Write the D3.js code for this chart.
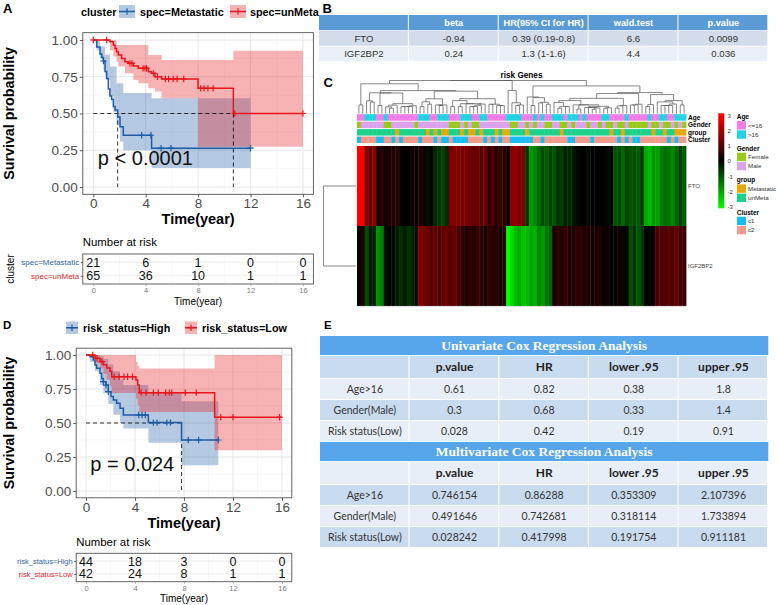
<!DOCTYPE html>
<html><head><meta charset="utf-8">
<script src="https://cdn.jsdelivr.net/npm/d3@7"></script>
<style>body{margin:0;background:#fff}svg{display:block}</style>
</head><body>
<svg id="fig" width="778" height="605"></svg>
<script>
// ================= DATA =================
const timeTicks = [0, 4, 8, 12, 16];
const timeMinor = [2, 6, 10, 14];
const survTicks = [0, 0.25, 0.5, 0.75, 1];
const survMinor = [0.125, 0.375, 0.625, 0.875];

// ---- Panel A : cluster ----
const aLabels = ["spec=Metastatic", "spec=unMeta"];
const aMetaTimes = [0, 0.26, 0.51, 0.65, 0.77, 0.9, 1.02, 1.15, 1.27, 1.4, 1.53, 1.66, 1.86, 2.04, 2.29, 4.45];
const aMetaSurv  = [1, 0.952, 0.905, 0.881, 0.857, 0.786, 0.738, 0.667, 0.619, 0.595, 0.548, 0.524, 0.476, 0.41, 0.352, 0.264];
const aMetaEnd = 12;
const aMetaCensor = [0.77, 3.69, 4.4, 5.17, 5.93, 12];
const aMetaBandTimes = [0, 0.26, 0.51, 0.77, 0.9, 1.02, 1.27, 1.53, 1.78, 2.04, 2.29, 4.45];
const aMetaLower = [1, 0.93, 0.875, 0.8, 0.76, 0.73, 0.62, 0.51, 0.42, 0.31, 0.25, 0.13];
const aMetaUpper = [1, 1, 0.955, 0.955, 0.9, 0.9, 0.82, 0.82, 0.705, 0.705, 0.64, 0.603];

const aUnTimes = [0, 1.27, 1.53, 1.66, 1.78, 1.91, 2.16, 2.42, 2.67, 3.06, 3.44, 4.2, 4.45, 4.71, 5.22, 8.0, 10.69];
const aUnSurv  = [1, 0.988, 0.966, 0.943, 0.92, 0.898, 0.875, 0.852, 0.841, 0.823, 0.807, 0.784, 0.773, 0.75, 0.735, 0.671, 0.5];
const aUnEnd = 16;
const aUnCensor = [0, 1.02, 2.8, 2.95, 3.8, 3.95, 4.07, 4.6, 4.9, 5.5, 5.75, 6.1, 6.4, 6.9, 8.2, 8.45, 8.75, 9.15, 10.8, 16];
const aUnBandTimes = [0, 1.27, 1.53, 1.78, 1.91, 2.42, 3.06, 3.44, 4.2, 4.71, 5.22, 8.0, 10.69];
const aUnLower = [1, 0.932, 0.887, 0.852, 0.82, 0.773, 0.728, 0.705, 0.671, 0.649, 0.603, 0.274, 0.274];
const aUnUpper = [1, 1, 1, 0.966, 0.966, 0.966, 0.966, 0.966, 0.898, 0.898, 0.864, 0.864, 0.927];
const aMedians = [1.86, 10.69];
const aRiskMeta = [21, 6, 1, 0, 0];
const aRiskUn   = [65, 36, 10, 1, 1];

// ---- Panel D : risk status ----
const dLabels = ["risk_status=High", "risk_status=Low"];
const dHighTimes = [0, 0.33, 0.6, 0.73, 0.87, 1.14, 1.28, 1.42, 1.63, 1.82, 2.04, 2.23, 2.5, 2.78, 3.05, 5.09, 7.8];
const dHighSurv  = [1, 0.988, 0.963, 0.926, 0.902, 0.865, 0.828, 0.804, 0.779, 0.73, 0.694, 0.669, 0.645, 0.608, 0.559, 0.503, 0.375];
const dHighEnd = 10.8;
const dHighCensor = [1.42, 1.63, 1.82, 4.3, 4.57, 4.84, 5.5, 5.8, 6.6, 6.9, 8.35, 9.2, 10.8];
const dHighBandTimes = [0, 0.33, 0.73, 1.14, 1.42, 1.82, 2.23, 2.78, 3.05, 5.09, 7.8];
const dHighLower = [1, 0.95, 0.88, 0.78, 0.72, 0.64, 0.56, 0.5, 0.46, 0.355, 0.19];
const dHighUpper = [1, 1, 1, 0.99, 0.97, 0.93, 0.88, 0.82, 0.78, 0.72, 0.66];

const dLowTimes = [0, 0.73, 1.14, 1.42, 1.69, 1.96, 2.1, 4.08, 4.22, 4.35, 10.5];
const dLowSurv  = [1, 0.976, 0.952, 0.928, 0.904, 0.88, 0.84, 0.816, 0.78, 0.723, 0.542];
const dLowEnd = 16;
const dLowCensor = [0.55, 0.9, 1.3, 2.3, 2.7, 3.1, 3.4, 3.8, 4.5, 4.9, 5.5, 5.9, 6.5, 6.8, 7.0, 8.1, 9.0, 11.0, 12.0, 15.8];
const dLowBandTimes = [0, 0.73, 1.14, 1.42, 1.69, 1.96, 2.1, 4.08, 4.22, 4.35, 10.5];
const dLowLower = [1, 0.94, 0.9, 0.86, 0.82, 0.77, 0.72, 0.68, 0.63, 0.58, 0.30];
const dLowUpper = [1, 1, 1, 1, 1, 1, 1, 0.95, 0.92, 0.9, 1.0];
const dMedians = [7.8];
const dRiskHigh = [44, 18, 3, 0, 0];
const dRiskLow  = [42, 24, 8, 1, 1];

// ---- Panel B : univariate table ----
const bHeader = ["", "beta", "HR(95% CI for HR)", "wald.test", "p.value"];
const bGenes = ["FTO", "IGF2BP2"];
const bBeta = [-0.94, 0.24];
const bHR = ["0.39 (0.19-0.8)", "1.3 (1-1.6)"];
const bWald = [6.6, 4.4];
const bP = [0.0099, 0.036];

// ---- Panel C : heatmap ----
const geneNames = ["FTO", "IGF2BP2"];
const ftoExpr = [3.0,2.9,1.5,1.2,1.7,0.3,0.5,0.2,0.4,0.3,0.5,0.1,0.0,0.05,0.2,0.1,0.4,0.2,-0.2,0.1,-0.5,-0.6,-0.8,-0.5,1.4,1.5,1.5,1.4,1.5,1.3,1.2,1.3,1.0,1.2,0.6,0.9,0.4,0.7,0.5,0.1,1.6,1.7,1.5,1.4,-0.6,-1.8,-1.6,-1.3,-0.9,-1.1,-0.8,-1.0,-0.6,-0.7,-0.4,-0.5,-0.3,-0.1,-0.05,0,-0.15,0,0,-0.05,0,-0.1,0,-1.0,-0.9,-1.2,-0.8,-1.0,-0.9,-1.1,-0.7,-2.0,-2.2,-1.8,-1.9,-1.5,-1.3,-1.4,-1.6,-1.2,-0.8,-1.1];
const igfExpr = [0.1,0.4,-0.9,-0.3,-0.4,-1.7,-1.5,-0.2,0.0,-0.1,-0.3,-0.5,-0.3,-0.6,-0.4,-0.2,1.5,1.4,1.2,1.0,1.2,0.9,1.1,1.3,1.0,1.2,0.8,0.6,0.3,0.6,0.4,0.7,0.5,0.2,0.6,0.4,0.5,0.3,0.5,-3.0,-2.6,-2.2,-2.0,-2.3,-2.2,-1.9,-2.1,-1.6,-1.8,-1.4,-1.2,0.3,0.5,0.4,0.6,0.4,0.3,0.5,0.6,0.3,0.4,0.2,0.3,0.4,0.1,0.2,0.0,0.1,0.2,0.1,0.0,-0.9,-0.6,-1.0,-0.7,0.0,-0.1,0.1,0.9,1.0,0.8,1.1,0.9,1.2,0.8,0.7];
const ageOver16Cols = [2,3,4,7,16,17,18,21,22,23,27,28,29,32,33,39,40,41,42,46,48,51,52,53,55,56,57,59,64,65,70,76,79,80,83,84,85];
const femaleCols = [0,7,8,15,24,25,26,28,30,31,40,41,44,46,49,50,53,54,56,60,63,65,66,68,69,71,72,73,74,75,77,78,80,81,83,85];
const metastaticCols = [10,18,20,22,23,27,29,30,32,36,38,39,44,53,66,69,77,80,83,84,85];
const clusterC1Cols = [0,5,6,9,11,16,20,22,23,25,26,27,28,33,35,37,40,41,42,43,44,45,48,55,56,61,68,70,72,73,81,83];
const annRows = ["Age", "Gender", "group", "Cluster"];
const annLevels = {Age: ["<=16", ">16"], Gender: ["Female", "Male"], group: ["Metastatic", "unMeta"], Cluster: ["c1", "c2"]};
const annColors = {"<=16": "#F07DE7", ">16": "#20D3E3", "Female": "#98C91C", "Male": "#DCA2EE",
                   "Metastatic": "#E6A905", "unMeta": "#1ED18B", "c1": "#18BCF0", "c2": "#F49A8C"};
const legendTicks = [3, 2, 1, 0, -1, -2, -3];

// ---- Panel E : Cox tables ----
const eHeader = ["", "p.value", "HR", "lower .95", "upper .95"];
const eVars = ["Age>16", "Gender(Male)", "Risk status(Low)"];
const uniVals = [[0.61, 0.82, 0.38, 1.8], [0.3, 0.68, 0.33, 1.4], [0.028, 0.42, 0.19, 0.91]];
const multiVals = [[0.746154, 0.86288, 0.353309, 2.107396], [0.491646, 0.742681, 0.318114, 1.733894], [0.028242, 0.417998, 0.191754, 0.911181]];
const eTitles = ["Univariate Cox Regression Analysis", "Multivariate Cox Regression Analysis"];

// ================= DRAWING =================
const SANS = "'Liberation Sans', Arial, Helvetica, sans-serif";
const BLUE = "#1E5BA6", RED = "#E8161C";
const BLUE_LAB = "#2F64A5", RED_LAB = "#E2282A";
const svg = d3.select("#fig");
svg.append("rect").attr("width", 778).attr("height", 605).attr("fill", "#fff");

function panelLabel(t, x, y, size) {
  svg.append("text").attr("x", x).attr("y", y).text(t)
    .attr("font-family", SANS).attr("font-weight", "bold").attr("font-size", size).attr("fill", "#000");
}

function stepVal(times, vals, t) {
  let v = vals[0];
  for (let i = 0; i < times.length; i++) if (times[i] <= t + 1e-9) v = vals[i];
  return v;
}

function styleAxis(g, size, color) {
  g.select(".domain").remove();
  g.attr("font-family", SANS).attr("font-size", size);
  g.selectAll(".tick line").attr("stroke", "#333").attr("stroke-width", 0.8);
  g.selectAll(".tick text").attr("fill", color);
}

function drawKM(o) {
  const x = d3.scaleLinear().domain([-0.8, 16.8]).range([o.left, o.right]);
  const y = d3.scaleLinear().domain([-0.05, 1.05]).range([o.bottom, o.top]);
  const g = svg.append("g");
  g.selectAll(".vmin").data(timeMinor).join("line")
    .attr("x1", d => x(d)).attr("x2", d => x(d)).attr("y1", o.top).attr("y2", o.bottom)
    .attr("stroke", "#F3F3F3").attr("stroke-width", 0.6);
  g.selectAll(".hmin").data(survMinor).join("line")
    .attr("y1", d => y(d)).attr("y2", d => y(d)).attr("x1", o.left).attr("x2", o.right)
    .attr("stroke", "#F3F3F3").attr("stroke-width", 0.6);
  g.selectAll(".vmaj").data(timeTicks).join("line")
    .attr("x1", d => x(d)).attr("x2", d => x(d)).attr("y1", o.top).attr("y2", o.bottom)
    .attr("stroke", "#E6E6E6").attr("stroke-width", 1);
  g.selectAll(".hmaj").data(survTicks).join("line")
    .attr("y1", d => y(d)).attr("y2", d => y(d)).attr("x1", o.left).attr("x2", o.right)
    .attr("stroke", "#E6E6E6").attr("stroke-width", 1);

  const area = d3.area().curve(d3.curveStepAfter).x(d => x(d.t)).y0(d => y(d.lo)).y1(d => y(d.hi));
  o.curves.forEach(c => {
    const pts = c.bandTimes.map((t, i) => ({t, lo: c.lower[i], hi: c.upper[i]}));
    const last = pts[pts.length - 1];
    pts.push({t: c.end, lo: last.lo, hi: last.hi});
    g.append("path").attr("d", area(pts)).attr("fill", c.color).attr("fill-opacity", 0.33);
  });

  // median lines
  const mMax = d3.max(o.medians);
  g.append("line").attr("x1", x(0)).attr("x2", x(mMax)).attr("y1", y(0.5)).attr("y2", y(0.5))
    .attr("stroke", "#000").attr("stroke-width", 0.8).attr("stroke-dasharray", "4,3");
  g.selectAll(".med").data(o.medians).join("line")
    .attr("x1", d => x(d)).attr("x2", d => x(d)).attr("y1", y(0.5)).attr("y2", y(0))
    .attr("stroke", "#000").attr("stroke-width", 0.8).attr("stroke-dasharray", "4,3");

  const line = d3.line().curve(d3.curveStepAfter).x(d => x(d[0])).y(d => y(d[1]));
  o.curves.forEach(c => {
    const pts = c.times.map((t, i) => [t, c.surv[i]]);
    pts.push([c.end, c.surv[c.surv.length - 1]]);
    g.append("path").attr("d", line(pts)).attr("fill", "none").attr("stroke", c.color).attr("stroke-width", 1.5);
    g.selectAll(null).data(c.censor).join("path")
      .attr("transform", t => `translate(${x(t)},${y(stepVal(c.times, c.surv, t))})`)
      .attr("d", "M-3.2,0H3.2M0,-3.2V3.2").attr("stroke", c.color).attr("stroke-width", 1.2);
  });

  g.append("rect").attr("x", o.left).attr("y", o.top).attr("width", o.right - o.left).attr("height", o.bottom - o.top)
    .attr("fill", "none").attr("stroke", "#555").attr("stroke-width", 0.9);

  g.append("text").attr("x", x(0.35)).attr("y", y(0.15)).text(o.pText)
    .attr("font-family", SANS).attr("font-size", 20).attr("fill", "#111");

  const ax = g.append("g").attr("transform", `translate(0,${o.bottom})`)
    .call(d3.axisBottom(x).tickValues(timeTicks).tickSize(3).tickPadding(1.5));
  styleAxis(ax, 13.5, "#4D4D4D");
  const ay = g.append("g").attr("transform", `translate(${o.left},0)`)
    .call(d3.axisLeft(y).tickValues(survTicks).tickFormat(d3.format(".2f")).tickSize(3).tickPadding(2));
  styleAxis(ay, 13.5, "#4D4D4D");

  g.append("text").attr("x", x(8)).attr("y", o.xTitleY).attr("text-anchor", "middle").text("Time(year)")
    .attr("font-family", SANS).attr("font-weight", "bold").attr("font-size", 14.5);
  g.append("text").attr("transform", `translate(${o.yTitleX},${(o.top + o.bottom) / 2}) rotate(-90)`)
    .attr("text-anchor", "middle").text("Survival probability")
    .attr("font-family", SANS).attr("font-weight", "bold").attr("font-size", 14.3);
}

function legendKey(x, y, w, h, color) {
  svg.append("rect").attr("x", x).attr("y", y).attr("width", w).attr("height", h).attr("fill", color).attr("fill-opacity", 0.33);
  svg.append("line").attr("x1", x).attr("x2", x + w).attr("y1", y + h / 2).attr("y2", y + h / 2)
    .attr("stroke", color).attr("stroke-width", 1.5);
  svg.append("path").attr("transform", `translate(${x + w / 2},${y + h / 2})`)
    .attr("d", "M-3.2,0H3.2M0,-3.2V3.2").attr("stroke", color).attr("stroke-width", 1.2);
}
function legendText(t, x, y) {
  svg.append("text").attr("x", x).attr("y", y).text(t)
    .attr("font-family", SANS).attr("font-weight", "bold").attr("font-size", 10.8);
}

function drawRisk(o) {
  const x = d3.scaleLinear().domain([-0.8, 16.8]).range([o.left, o.right]);
  const y = d3.scalePoint().domain(o.labels).range([o.top, o.bottom]).padding(0.6);
  const g = svg.append("g");
  g.selectAll(".vmin").data(timeMinor).join("line")
    .attr("x1", d => x(d)).attr("x2", d => x(d)).attr("y1", o.top).attr("y2", o.bottom)
    .attr("stroke", "#F3F3F3").attr("stroke-width", 0.6);
  g.selectAll(".vmaj").data(timeTicks).join("line")
    .attr("x1", d => x(d)).attr("x2", d => x(d)).attr("y1", o.top).attr("y2", o.bottom)
    .attr("stroke", "#EAEAEA").attr("stroke-width", 0.9);
  g.selectAll(".hmaj").data(o.labels).join("line")
    .attr("y1", d => y(d)).attr("y2", d => y(d)).attr("x1", o.left).attr("x2", o.right)
    .attr("stroke", "#EAEAEA").attr("stroke-width", 0.9);
  o.labels.forEach((lab, r) => {
    g.selectAll(null).data(o.counts[r]).join("text")
      .attr("x", (d, i) => x(timeTicks[i])).attr("y", y(lab)).attr("dy", "0.36em")
      .attr("text-anchor", "middle").text(d => d)
      .attr("font-family", SANS).attr("font-size", 12.5).attr("fill", "#111");
  });
  g.append("rect").attr("x", o.left).attr("y", o.top).attr("width", o.right - o.left).attr("height", o.bottom - o.top)
    .attr("fill", "none").attr("stroke", "#555").attr("stroke-width", 0.9);
  const ax = g.append("g").attr("transform", `translate(0,${o.bottom})`)
    .call(d3.axisBottom(x).tickValues(timeTicks).tickSize(2).tickPadding(1.5));
  styleAxis(ax, 7.5, "#7A7A7A");
  ax.selectAll(".tick line").attr("stroke", "#999");
  const ay = g.append("g").attr("transform", `translate(${o.left},0)`)
    .call(d3.axisLeft(y).tickSize(2).tickPadding(1.5));
  styleAxis(ay, o.labSize, "#000");
  ay.selectAll(".tick text").attr("fill", (d, i) => o.labColors[i]);
  g.append("text").attr("x", o.left).attr("y", o.titleY).text("Number at risk")
    .attr("font-family", SANS).attr("font-size", 11.4);
  g.append("text").attr("x", x(8)).attr("y", o.xTitleY).attr("text-anchor", "middle").text("Time(year)")
    .attr("font-family", SANS).attr("font-size", 10);
}

// ---- Panel A ----
panelLabel("A", 3, 13, 13);
drawKM({
  left: 82.8, right: 313.4, top: 32.65, bottom: 194.35, xTitleY: 224, yTitleX: 14,
  medians: aMedians, pText: "p < 0.0001",
  curves: [
    {times: aMetaTimes, surv: aMetaSurv, end: aMetaEnd, censor: aMetaCensor, bandTimes: aMetaBandTimes, lower: aMetaLower, upper: aMetaUpper, color: BLUE},
    {times: aUnTimes, surv: aUnSurv, end: aUnEnd, censor: aUnCensor, bandTimes: aUnBandTimes, lower: aUnLower, upper: aUnUpper, color: RED}
  ]
});
legendText("cluster", 81, 15.5);
legendKey(119, 5, 16, 13, BLUE);
legendText(aLabels[0], 140, 15.5);
legendKey(230, 5, 16, 13, RED);
legendText(aLabels[1], 250, 15.5);
drawRisk({left: 82.8, right: 313.4, top: 254, bottom: 284, labels: aLabels, counts: [aRiskMeta, aRiskUn],
  labColors: [BLUE_LAB, RED_LAB], labSize: 8, titleY: 245.5, xTitleY: 304.5});
svg.append("text").attr("transform", "translate(14,269) rotate(-90)").attr("text-anchor", "middle").text("cluster")
  .attr("font-family", SANS).attr("font-size", 10);

// ---- Panel D ----
panelLabel("D", 3, 328.5, 11.5);
drawKM({
  left: 76.2, right: 291.8, top: 348.2, bottom: 497.8, xTitleY: 527.5, yTitleX: 13.5,
  medians: dMedians, pText: "p = 0.024",
  curves: [
    {times: dHighTimes, surv: dHighSurv, end: dHighEnd, censor: dHighCensor, bandTimes: dHighBandTimes, lower: dHighLower, upper: dHighUpper, color: BLUE},
    {times: dLowTimes, surv: dLowSurv, end: dLowEnd, censor: dLowCensor, bandTimes: dLowBandTimes, lower: dLowLower, upper: dLowUpper, color: RED}
  ]
});
legendKey(66, 321.5, 12, 12.5, BLUE);
legendText(dLabels[0], 83, 331.8);
legendKey(185, 321.5, 12, 12.5, RED);
legendText(dLabels[1], 202, 331.8);
drawRisk({left: 76.2, right: 291.8, top: 553.3, bottom: 581.7, labels: dLabels, counts: [dRiskHigh, dRiskLow],
  labColors: [BLUE_LAB, RED_LAB], labSize: 7.5, titleY: 545.5, xTitleY: 602});

// ---- Panel B ----
panelLabel("B", 322.5, 12.5, 13);
(function () {
  const cx = d3.scaleBand().domain(d3.range(bHeader.length)).range([319, 768.3]);
  const g = svg.append("g").attr("font-family", SANS);
  const rowsY = [15, 31, 46.5], rowsH = [15.2, 14.7, 14.7];
  const rows = [bHeader].concat(bGenes.map((gn, i) => [gn, String(bBeta[i]), bHR[i], String(bWald[i]), String(bP[i])]));
  const fills = ["#5B9BD5", "#D3DCEA", "#EBEFF6"];
  rows.forEach((r, ri) => {
    r.forEach((cell, ci) => {
      g.append("rect").attr("x", cx(ci)).attr("y", rowsY[ri]).attr("width", cx.bandwidth() - 1).attr("height", rowsH[ri])
        .attr("fill", fills[ri]);
      g.append("text").attr("x", cx(ci) + cx.bandwidth() / 2).attr("y", rowsY[ri] + rowsH[ri] / 2).attr("dy", "0.36em")
        .attr("text-anchor", "middle").text(cell)
        .attr("font-size", ri === 0 ? 9.2 : 9.6).attr("font-weight", ri === 0 ? "bold" : "normal")
        .attr("fill", ri === 0 ? "#fff" : "#333");
    });
  });
})();

// ---- Panel C ----
panelLabel("C", 323.5, 86.5, 13);
(function () {
  const nCols = ftoExpr.length;
  const exprRows = [ftoExpr, igfExpr];
  const hx = d3.scaleBand().domain(d3.range(nCols)).range([357, 686]);
  const hy = d3.scaleBand().domain(geneNames).range([146, 306]);
  const ay = d3.scaleBand().domain(annRows).range([114.2, 143]).paddingInner(0.13);
  const color = d3.scaleLinear().domain([-3, 0, 3]).range(["#00FF00", "#000000", "#FF0000"]).clamp(true);
  const g = svg.append("g").attr("font-family", SANS);

  g.append("text").attr("x", (357 + 686) / 2).attr("y", 78).attr("text-anchor", "middle").text("risk Genes")
    .attr("font-size", 8.2).attr("font-weight", "bold");

  // annotations per column
  const ann = {
    Age: d3.range(nCols).map(i => ageOver16Cols.includes(i) ? ">16" : "<=16"),
    Gender: d3.range(nCols).map(i => femaleCols.includes(i) ? "Female" : "Male"),
    group: d3.range(nCols).map(i => metastaticCols.includes(i) ? "Metastatic" : "unMeta"),
    Cluster: d3.range(nCols).map(i => clusterC1Cols.includes(i) ? "c1" : "c2")
  };
  annRows.forEach(r => {
    g.selectAll(null).data(ann[r]).join("rect")
      .attr("x", (d, i) => hx(i)).attr("y", ay(r)).attr("width", hx.bandwidth() + 0.4).attr("height", ay.bandwidth())
      .attr("fill", d => annColors[d]);
    g.append("text").attr("x", 688).attr("y", ay(r) + ay.bandwidth() / 2).attr("dy", "0.36em").text(r)
      .attr("font-size", 6.5).attr("font-weight", "bold");
  });

  // heatmap cells
  geneNames.forEach((gn, r) => {
    g.selectAll(null).data(exprRows[r]).join("rect")
      .attr("x", (d, i) => hx(i)).attr("y", hy(gn)).attr("width", hx.bandwidth() + 0.4).attr("height", hy.bandwidth())
      .attr("fill", d => color(d));
    g.append("text").attr("x", 688).attr("y", hy(gn) + hy.bandwidth() / 2).attr("dy", "0.36em").text(gn)
      .attr("font-size", 6).attr("fill", "#444");
  });
  g.append("line").attr("x1", 357).attr("x2", 686).attr("y1", 306.3).attr("y2", 306.3).attr("stroke", "#bbb").attr("stroke-width", 0.6);

  // column dendrogram: adjacent-constrained average-linkage clustering of the columns
  const vecs = d3.range(nCols).map(i => [ftoExpr[i], igfExpr[i]]);
  let cl = vecs.map((v, i) => ({leaf: i, members: [i], h: 0}));
  const dist = (a, b) => {
    let s = 0;
    for (const i of a.members) for (const j of b.members) s += Math.hypot(vecs[i][0] - vecs[j][0], vecs[i][1] - vecs[j][1]);
    return s / (a.members.length * b.members.length);
  };
  while (cl.length > 1) {
    let bi = 0, bd = Infinity;
    for (let k = 0; k < cl.length - 1; k++) { const dd = dist(cl[k], cl[k + 1]); if (dd < bd) { bd = dd; bi = k; } }
    const a = cl[bi], b = cl[bi + 1];
    cl.splice(bi, 2, {members: a.members.concat(b.members), h: Math.max(bd, a.h, b.h), children: [a, b]});
  }
  const root = d3.hierarchy(cl[0], d => d.children);
  const hS = d3.scalePow().exponent(0.6).domain([0, cl[0].h]).range([113.6, 80.5]);
  root.eachAfter(n => {
    n.px = n.children ? (n.children[0].px + n.children[1].px) / 2 : hx(n.data.leaf) + hx.bandwidth() / 2;
    n.py = hS(n.data.h);
  });
  g.selectAll(null).data(root.descendants().filter(n => n.children)).join("path")
    .attr("d", n => { const [a, b] = n.children; return `M${a.px},${a.py}V${n.py}H${b.px}V${b.py}`; })
    .attr("fill", "none").attr("stroke", "#555").attr("stroke-width", 0.7);

  // row dendrogram
  g.append("path")
    .attr("d", `M356,${hy("FTO") + hy.bandwidth() / 2}H323.5V${hy("IGF2BP2") + hy.bandwidth() / 2}H356`)
    .attr("fill", "none").attr("stroke", "#555").attr("stroke-width", 0.7);

  // colour legend
  const defs = svg.append("defs");
  const grad = defs.append("linearGradient").attr("id", "hmgrad").attr("x1", 0).attr("x2", 0).attr("y1", 0).attr("y2", 1);
  d3.range(0, 1.0001, 0.1).forEach(f => grad.append("stop").attr("offset", f).attr("stop-color", color(3 - 6 * f)));
  g.append("rect").attr("x", 718.3).attr("y", 113.3).attr("width", 6).attr("height", 95).attr("fill", "url(#hmgrad)");
  const ly = d3.scaleLinear().domain([-3, 3]).range([206.7, 115.7]);
  g.selectAll(null).data(legendTicks).join("text")
    .attr("x", 727.5).attr("y", d => ly(d)).attr("dy", "0.36em").text(d => d)
    .attr("font-size", 6).attr("fill", "#333");

  // annotation legend
  const titleY = {Age: 116.7, Gender: 148.3, group: 180, Cluster: 212.3};
  annRows.forEach(r => {
    g.append("text").attr("x", 736.7).attr("y", titleY[r]).attr("dy", "0.36em").text(r)
      .attr("font-size", 6.5).attr("font-weight", "bold");
    annLevels[r].forEach((lev, k) => {
      const yy = titleY[r] + 8.6 + k * 9.2;
      g.append("rect").attr("x", 737).attr("y", yy - 4.2).attr("width", 9).attr("height", 8.4).attr("fill", annColors[lev]);
      g.append("text").attr("x", 748).attr("y", yy).attr("dy", "0.36em").text(lev)
        .attr("font-size", 6.2).attr("fill", "#333");
    });
  });
})();

// ---- Panel E ----
panelLabel("E", 324, 328.5, 11.5);
(function () {
  const cx = d3.scaleBand().domain(d3.range(eHeader.length)).range([320, 768.3]);
  const g = svg.append("g");
  const TITLE = "#57A5EA", MED = "#C9DBEF", LIGHT = "#E8EEF7";
  const layout = [];
  eTitles.forEach((t, k) => {
    const vals = k === 0 ? uniVals : multiVals;
    layout.push({type: "title", text: t, h: 19});
    layout.push({type: "header", cells: eHeader, h: 22});
    eVars.forEach((v, i) => layout.push({type: "data", cells: [v].concat(vals[i].map(String)), h: 20}));
  });
  let yy = 336;
  layout.forEach((row, ri) => {
    const band = ri % 2 === 1 ? MED : LIGHT;
    if (row.type === "title") {
      g.append("rect").attr("x", 320).attr("y", yy).attr("width", 768.3 - 320).attr("height", row.h).attr("fill", TITLE);
      g.append("text").attr("x", (320 + 768.3) / 2).attr("y", yy + row.h / 2).attr("dy", "0.35em")
        .attr("text-anchor", "middle").text(row.text)
        .attr("font-family", "'Liberation Serif', 'DejaVu Serif', serif").attr("font-weight", "bold")
        .attr("font-size", 13.5).attr("fill", "#fff");
    } else {
      row.cells.forEach((c, ci) => {
        g.append("rect").attr("x", cx(ci)).attr("y", yy).attr("width", cx.bandwidth() - 1.2).attr("height", row.h).attr("fill", band);
        g.append("text").attr("x", cx(ci) + cx.bandwidth() / 2).attr("y", yy + row.h / 2).attr("dy", "0.36em")
          .attr("text-anchor", "middle").text(c)
          .attr("font-family", "Lato, 'Open Sans', sans-serif")
          .attr("font-weight", row.type === "header" ? "bold" : "normal")
          .attr("font-size", row.type === "header" ? 12 : 10.5)
          .attr("fill", row.type === "header" ? "#222" : "#333");
      });
    }
    yy += row.h + 1;
  });
})();
</script>
</body></html>
